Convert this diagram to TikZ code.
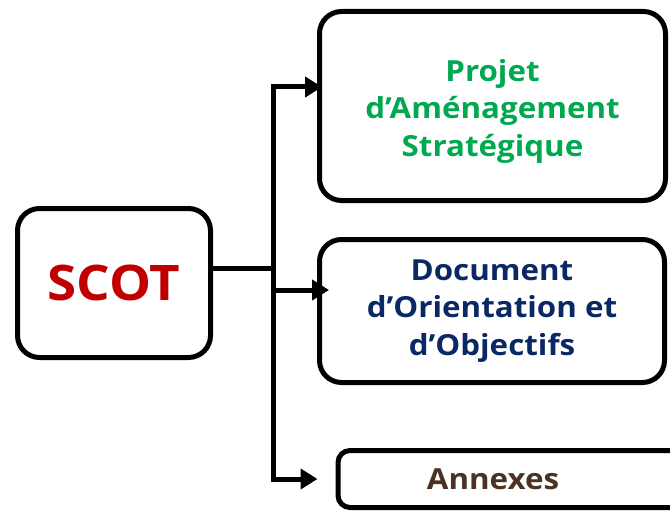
\documentclass[tikz,border=0pt]{standalone}
\usepackage{fontspec}
\setmainfont{Open Sans}[FakeStretch=1.08]
\usetikzlibrary{arrows.meta,calc}
\definecolor{scotred}{RGB}{192,0,0}
\definecolor{pasgreen}{RGB}{0,168,80}
\definecolor{doonavy}{RGB}{10,40,100}
\definecolor{annbrown}{RGB}{76,50,34}
\tikzset{
  box/.style={draw=black, line width=5pt, rounded corners=22pt, fill=white, inner sep=0pt, align=center},
  boxtext/.style={font=\fontsize{29}{37.5}\selectfont\bfseries, align=center},
  conn/.style={draw=black, line width=5pt},
  arr/.style={conn, -{Triangle[length=17pt,width=20pt]}}
}
\begin{document}
\begin{tikzpicture}[x=1pt,y=-1pt]
\useasboundingbox (0,0) rectangle (670,511);
\node[box, minimum width=193pt, minimum height=149pt, font=\fontsize{49}{52}\selectfont\bfseries, text=scotred] (scot) at (114,283) {SCOT};
\node[box, minimum width=346pt, minimum height=189pt,
  label={[boxtext, text=pasgreen, yshift=-5pt]center:Projet\\d’Aménagement\\Stratégique}] (pas) at (492.5,106) {};
\node[box, boxtext, minimum width=345pt, minimum height=143pt, text=doonavy] (doo) at (492,311) {Document\\d’Orientation et\\d’Objectifs};
\node[box, rounded corners=12pt, minimum width=360pt, minimum height=57pt, anchor=west] (annbox) at (335.5,479) {};
\node[boxtext, text=annbrown] (ann) at (493,479) {Annexes};
\coordinate (j) at (273,268);
\draw[conn] (scot.east |- j) -- (j);
\draw[arr] (j) |- ([xshift=5pt,yshift=19pt]pas.west);
\draw[arr] (j) |- ([xshift=12pt,yshift=21pt]doo.west);
\draw[arr] (j) |- ([xshift=-18pt]annbox.west);
\end{tikzpicture}
\end{document}
